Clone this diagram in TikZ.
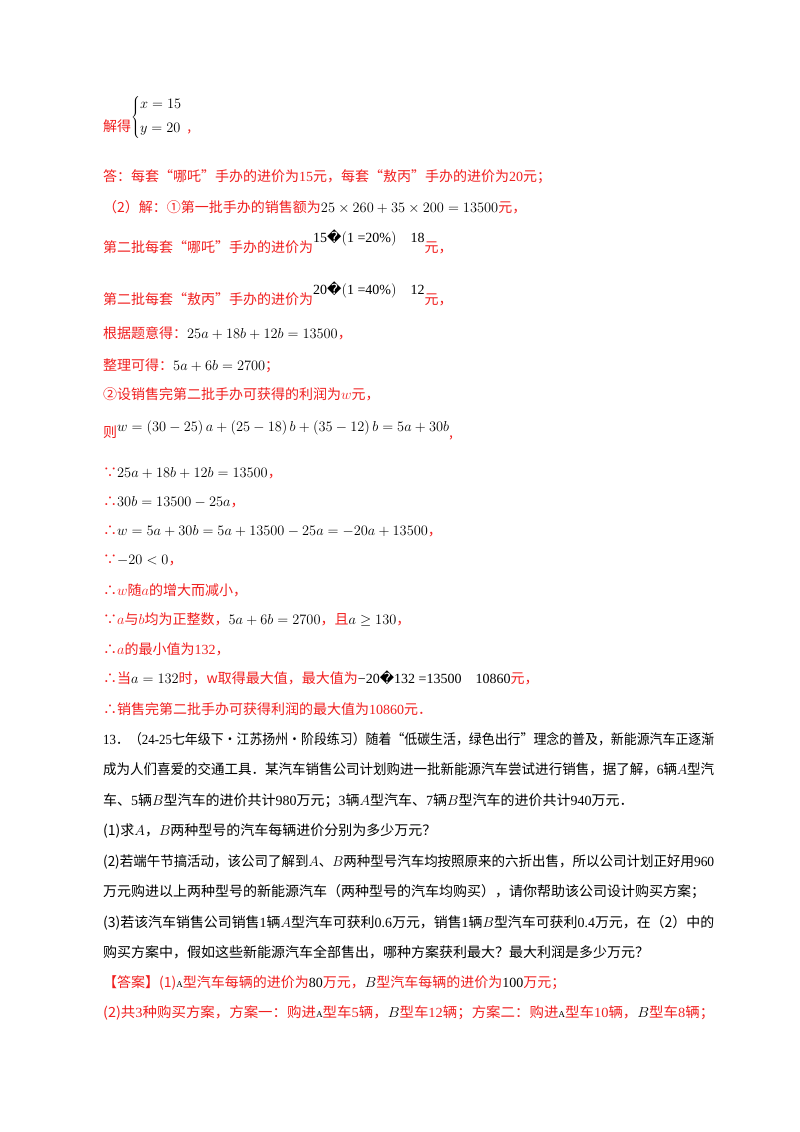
\documentclass[tikz,border=0pt]{standalone}
\usepackage{fontspec}
\usepackage{graphicx}
\setmainfont{Noto Sans CJK SC}
\newfontfamily\lat{Liberation Serif}
\newfontfamily\dv{DejaVu Sans}
\definecolor{ans}{RGB}{240,30,30}
\newcommand{\jline}[1]{\resizebox{611pt}{\height}{#1}}
\newcommand{\n}[1]{{\lat #1}}
\begin{document}
\begin{tikzpicture}[x=1pt,y=-1pt,
  every node/.style={anchor=base west,inner sep=0pt,font=\fontsize{14}{16}\selectfont},
  red/.style={text=ans},blk/.style={text=black}]
\useasboundingbox (0,0) rectangle (800,1132);
\node[red] (l1) at (103,131) {解得\raisebox{10pt}{\color{black}$\left\{\begin{array}{@{}l}x=15\\[8pt] y=20\end{array}\right.$},};
\node[red] (l2) at (103,181) {答：每套“哪吒”手办的进价为\n{15}元，每套“敖丙”手办的进价为\n{20}元；};
\node[red] (l3) at (103,212) {（2）解：①第一批手办的销售额为\textcolor{black}{$25\times260+35\times200=13500$}元，};
\node[red] (l4) at (103,252) {第二批每套“哪吒”手办的进价为\raisebox{10pt}{\color{black}\lat 15{\dv\char"FFFD}$\bigl($1 =20\%$\bigr)$\quad 18}元，};
\node[red] (l5) at (103,304) {第二批每套“敖丙”手办的进价为\raisebox{10pt}{\color{black}\lat 20{\dv\char"FFFD}$\bigl($1 =40\%$\bigr)$\quad 12}元，};
\node[red] (l6) at (103,338) {根据题意得：\textcolor{black}{$25a+18b+12b=13500$}，};
\node[red] (l7) at (103,370) {整理可得：\textcolor{black}{$5a+6b=2700$}；};
\node[red] (l8) at (103,399) {②设销售完第二批手办可获得的利润为$w$元，};
\node[red] (l9) at (103,437) {则\raisebox{6pt}{\color{black}$w=\bigl(30-25\bigr)\,a+\bigl(25-18\bigr)\,b+\bigl(35-12\bigr)\,b=5a+30b$},};
\node[red] (l10) at (103,477) {∵\textcolor{black}{$25a+18b+12b=13500$}，};
\node[red] (l11) at (103,506) {∴\textcolor{black}{$30b=13500-25a$}，};
\node[red] (l12) at (103,535) {∴\textcolor{black}{$w=5a+30b=5a+13500-25a=-20a+13500$}，};
\node[red] (l13) at (103,564) {∵\textcolor{black}{$-20<0$}，};
\node[red] (l14) at (103,595) {∴$w$随$a$的增大而减小，};
\node[red] (l15) at (103,624) {∵$a$与$b$均为正整数，\textcolor{black}{$5a+6b=2700$}，且\textcolor{black}{$a\geq130$}，};
\node[red] (l16) at (103,654) {∴$a$的最小值为\n{132}，};
\node[red] (l17) at (103,683) {∴当\textcolor{black}{$a=132$}时，w取得最大值，最大值为\textcolor{black}{\lat −20{\dv\char"FFFD}132 =13500\quad 10860}元，};
\node[red] (l18) at (103,714) {∴销售完第二批手办可获得利润的最大值为\n{10860}元．};
\node[blk] (q1) at (103,744) {\jline{\n{13}．（\n{24-25}七年级下·江苏扬州·阶段练习）随着“低碳生活，绿色出行”理念的普及，新能源汽车正逐渐}};
\node[blk] (q2) at (103,774) {\jline{成为人们喜爱的交通工具．某汽车销售公司计划购进一批新能源汽车尝试进行销售，据了解，\n{6}辆$A$型汽}};
\node[blk] (q3) at (103,805) {车、\n{5}辆$B$型汽车的进价共计\n{980}万元；\n{3}辆$A$型汽车、\n{7}辆$B$型汽车的进价共计\n{940}万元．};
\node[blk] (q4) at (103,835) {(1)求$A$，$B$两种型号的汽车每辆进价分别为多少万元？};
\node[blk] (q5) at (103,866) {\jline{(2)若端午节搞活动，该公司了解到$A$、$B$两种型号汽车均按照原来的六折出售，所以公司计划正好用\n{960}}};
\node[blk] (q6) at (103,896) {万元购进以上两种型号的新能源汽车（两种型号的汽车均购买），请你帮助该公司设计购买方案；};
\node[blk] (q7) at (103,927) {\jline{(3)若该汽车销售公司销售\n{1}辆$A$型汽车可获利\n{0.6}万元，销售\n{1}辆$B$型汽车可获利\n{0.4}万元，在（2）中的}};
\node[blk] (q8) at (103,957) {购买方案中，假如这些新能源汽车全部售出，哪种方案获利最大？最大利润是多少万元？};
\node[red] (a1) at (103,987) {【答案】(1)\textcolor{black}{\lat\small A}型汽车每辆的进价为\textcolor{black}{\n{80}}万元，\textcolor{black}{$B$}型汽车每辆的进价为\textcolor{black}{\n{100}}万元；};
\node[red] (a2) at (103,1017) {\jline{(2)共\n{3}种购买方案，方案一：购进\textcolor{black}{\lat\small A}型车\n{5}辆，\textcolor{black}{$B$}型车\n{12}辆；方案二：购进\textcolor{black}{\lat\small A}型车\n{10}辆，\textcolor{black}{$B$}型车\n{8}辆；}};
\end{tikzpicture}
\end{document}
